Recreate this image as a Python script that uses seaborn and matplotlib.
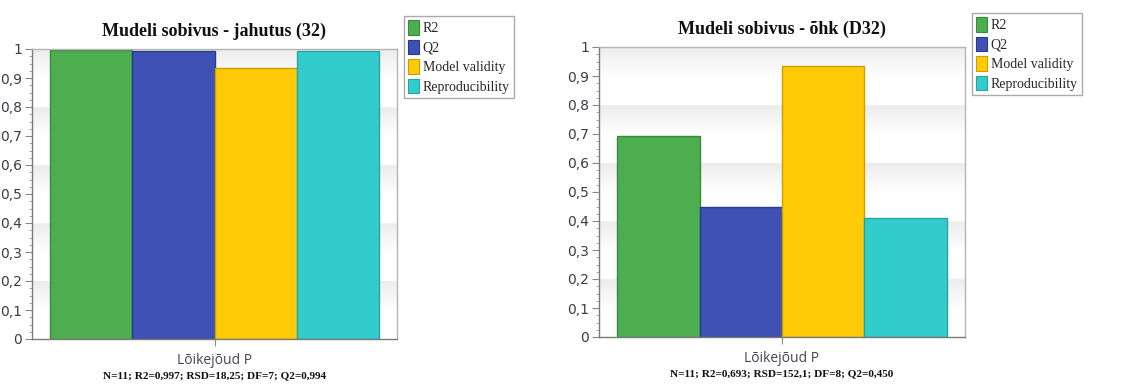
import numpy as np
import pandas as pd
import matplotlib
matplotlib.use("Agg")
import matplotlib.pyplot as plt
from matplotlib.ticker import MultipleLocator, FuncFormatter
from matplotlib.patches import Patch
import seaborn as sns

# ---- data -------------------------------------------------------------
metrics = ["R2", "Q2", "Model validity", "Reproducibility"]
factor = "Lõikejõud P"

titles = ["Mudeli sobivus - jahutus (32)", "Mudeli sobivus - õhk (D32)"]
values_jahutus = [0.997, 0.994, 0.935, 0.993]
values_ohk = [0.693, 0.450, 0.935, 0.410]
summaries = [
    "N=11; R2=0,997; RSD=18,25; DF=7; Q2=0,994",
    "N=11; R2=0,693; RSD=152,1; DF=8; Q2=0,450",
]

fill_colors = ["#4CAE4F", "#3F51B5", "#FFCA08", "#33CCCC"]
edge_colors = ["#3A8C3D", "#2B3A8A", "#C9A000", "#26A3A3"]

sns.set_theme(style="white")
plt.rcParams["font.family"] = ["DejaVu Sans"]

fig = plt.figure(figsize=(11.23, 3.85), dpi=100)

axes_rects = [
    [32 / 1123, 1 - 339 / 385, 365 / 1123, 290 / 385],
    [599 / 1123, 1 - 337 / 385, 366 / 1123, 290 / 385],
]
legend_anchor = [(404 / 1123, 1 - 16 / 385), (972 / 1123, 1 - 13 / 385)]

serif = ["Liberation Serif", "DejaVu Serif"]
tick_color = "#3B3B4B"


def comma_fmt(v, _):
    if abs(v) < 1e-9:
        return "0"
    if abs(v - 1) < 1e-9:
        return "1"
    return f"{v:.1f}".replace(".", ",")


def draw_bands(ax):
    # soft grey bands that fade downward from every other gridline
    y = np.linspace(1.0, 0.0, 1000, endpoint=False)
    phase = (1.0 - y) % 0.2
    shade = np.where(phase < 0.1, 0.925 + 0.075 * phase / 0.1, 1.0)
    img = np.repeat(shade[:, None], 2, axis=1)
    rgb = np.dstack([img, img, img])
    ax.imshow(rgb, extent=[-0.5, 0.5, 0.0, 1.0], aspect="auto",
              interpolation="bilinear", zorder=0)


for k, (vals, title, summ) in enumerate(
    zip([values_jahutus, values_ohk], titles, summaries)
):
    ax = fig.add_axes(axes_rects[k])
    draw_bands(ax)
    df = pd.DataFrame({"factor": [factor] * len(metrics),
                       "metric": metrics, "value": vals})
    sns.barplot(data=df, x="factor", y="value", hue="metric",
                hue_order=metrics, palette=fill_colors, width=0.9,
                dodge=True, legend=False, ax=ax, zorder=2,
                linewidth=1.0, saturation=1)
    for container, ec in zip(ax.containers, edge_colors):
        for bar in container:
            bar.set_edgecolor(ec)
            bar.set_linewidth(1.0)

    ax.set_xlim(-0.5, 0.5)
    ax.set_ylim(0, 1)
    ax.yaxis.set_major_locator(MultipleLocator(0.1))
    ax.yaxis.set_minor_locator(MultipleLocator(0.025))
    ax.yaxis.set_major_formatter(FuncFormatter(comma_fmt))
    ax.tick_params(axis="y", which="major", left=True, length=5, width=0.8,
                   color="#888888", labelsize=10, labelcolor=tick_color, pad=2)
    ax.tick_params(axis="y", which="minor", left=True, length=2.5, width=0.6,
                   color="#999999")
    ax.tick_params(axis="x", which="major", bottom=True, length=5, width=0.8,
                   color="#888888", labelbottom=False)
    ax.set_xlabel("")
    ax.set_ylabel("")

    for side, sp in ax.spines.items():
        sp.set_visible(True)
        sp.set_linewidth(1.0)
        sp.set_color("#7A7A7A" if side in ("left", "bottom") else "#B5B5B5")
        sp.set_zorder(3)

    # title, axis caption and model summary
    ax.text(0.5, 1.0 + 9 / 290, title, transform=ax.transAxes,
            ha="center", va="bottom", fontsize=13, fontweight="bold",
            family=serif, color="#111111")
    ax.text(0.5, -21 / 290, factor, transform=ax.transAxes,
            ha="center", va="center", fontsize=10, color="#444455",
            family=["Open Sans", "DejaVu Sans"])
    ax.text(0.5, -37 / 290, summ, transform=ax.transAxes,
            ha="center", va="center", fontsize=8.1, fontweight="bold",
            family=serif, color="#111111")

    handles = [Patch(facecolor=f, edgecolor=e, linewidth=0.8)
               for f, e in zip(fill_colors, edge_colors)]
    leg = fig.legend(handles, metrics, loc="upper left",
                     bbox_to_anchor=legend_anchor[k],
                     bbox_transform=fig.transFigure,
                     prop={"family": serif, "size": 10},
                     frameon=True, fancybox=False, framealpha=1,
                     edgecolor="#AAAAAA", handlelength=0.75,
                     handleheight=1.25, handletextpad=0.3,
                     labelspacing=0.32, borderpad=0.3, borderaxespad=0)
    leg.get_frame().set_linewidth(1.0)

fig.savefig("out.png", dpi=100)
